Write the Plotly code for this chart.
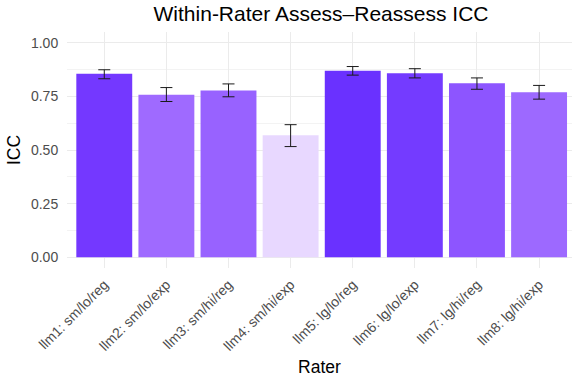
import plotly.graph_objects as go

raters = ["llm1: sm/lo/reg", "llm2: sm/lo/exp", "llm3: sm/hi/reg", "llm4: sm/hi/exp",
          "llm5: lg/lo/reg", "llm6: lg/lo/exp", "llm7: lg/hi/reg", "llm8: lg/hi/exp"]
icc = [0.855, 0.758, 0.777, 0.569, 0.869, 0.858, 0.811, 0.769]
ci_low = [0.832, 0.726, 0.748, 0.516, 0.849, 0.836, 0.783, 0.737]
ci_high = [0.874, 0.791, 0.808, 0.618, 0.889, 0.879, 0.836, 0.801]
y_ticks = [0.0, 0.25, 0.5, 0.75, 1.0]
y_tick_text = ["0.00", "0.25", "0.50", "0.75", "1.00"]

bar_colors = ["#7438FF", "#9F6AFF", "#9862FF", "#E8D8FF",
              "#6A31FF", "#743BFF", "#8D55FF", "#9D69FF"]

err_plus = [h - v for h, v in zip(ci_high, icc)]
err_minus = [v - l for v, l in zip(icc, ci_low)]

fig = go.Figure()
fig.add_trace(go.Bar(
    x=raters, y=icc, width=0.9,
    marker=dict(color=bar_colors, line=dict(width=0)),
    error_y=dict(type="data", symmetric=False, array=err_plus, arrayminus=err_minus,
                 color="#1a1a1a", thickness=1, width=6),
    showlegend=False,
))

fig.update_layout(
    width=572, height=379,
    margin=dict(l=67, r=0, t=32, b=111),
    paper_bgcolor="white", plot_bgcolor="white",
    font=dict(family="Liberation Sans, Arial, sans-serif"),
    title=dict(text="Within-Rater Assess\u2013Reassess ICC", x=321 / 572,
               xanchor="center", y=1 - 14 / 379, yanchor="middle",
               font=dict(size=21, color="black"), automargin=False),
    bargap=0.1,
)
fig.update_xaxes(
    range=[-0.6, 7.53], tickangle=-45, automargin=False,
    tickfont=dict(size=14, color="#4D4D4D"),
    showgrid=True, gridcolor="#EBEBEB", gridwidth=1,
    ticks="outside", ticklen=2, tickcolor="rgba(0,0,0,0)",
    showline=False, zeroline=False,
    title=dict(text="Rater", font=dict(size=17.5, color="black"), standoff=7),
)
fig.update_yaxes(
    range=[-0.05, 1.05], tickvals=y_ticks, ticktext=y_tick_text, automargin=False,
    tickfont=dict(size=14, color="#4D4D4D"),
    showgrid=True, gridcolor="#EBEBEB", gridwidth=1,
    minor=dict(tickvals=[0.125, 0.375, 0.625, 0.875], showgrid=True,
               gridcolor="#F3F3F3", gridwidth=0.6),
    ticks="outside", ticklen=5, tickcolor="rgba(0,0,0,0)",
    showline=False, zeroline=False,
    title=dict(text="ICC", font=dict(size=17.5, color="black"), standoff=5),
)

fig.write_html("out.html", config={"displayModeBar": False},
               post_script="document.body.style.margin='0';")
